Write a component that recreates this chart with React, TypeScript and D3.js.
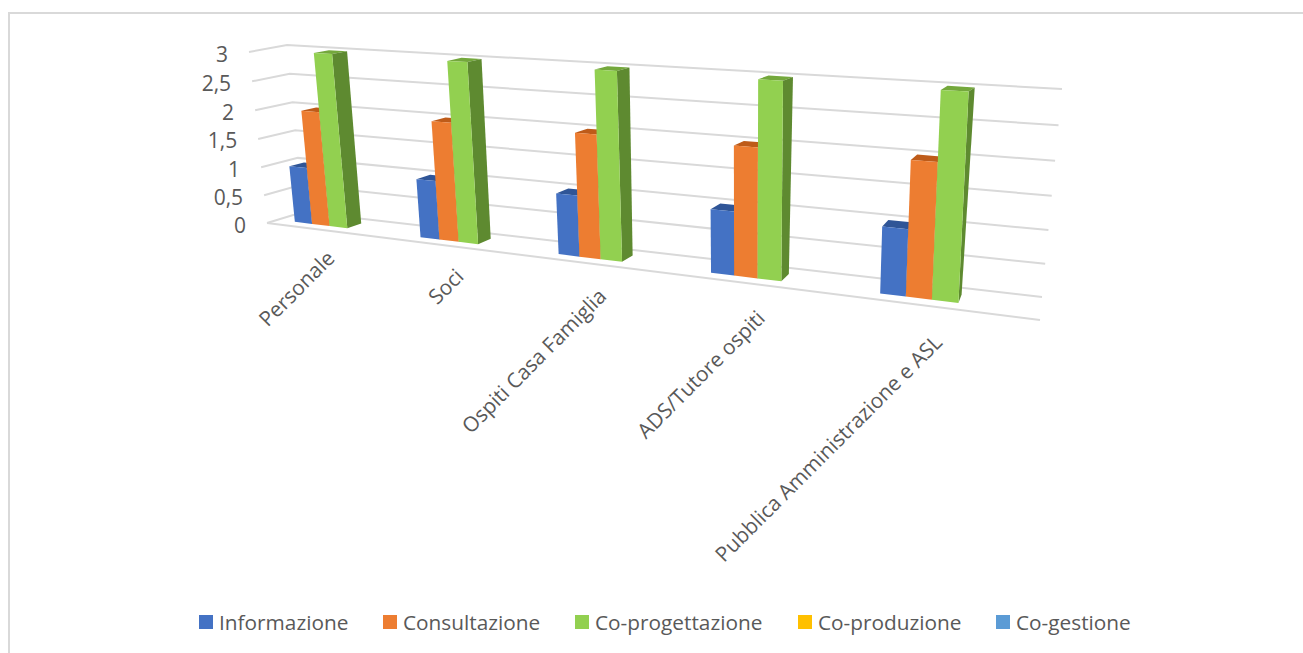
import React from "react";
import * as d3 from "d3";

const categories = ["Personale", "Soci", "Ospiti Casa Famiglia", "ADS/Tutore ospiti", "Pubblica Amministrazione e ASL"];
const seriesNames = ["Informazione", "Consultazione", "Co-progettazione", "Co-produzione", "Co-gestione"];
const seriesFront = ["#4472C4", "#ED7D31", "#92D050", "#FFC000", "#5B9BD5"];
const seriesTop = ["#2F5597", "#BE5B19", "#74A83C", "#BF9000", "#2E75B6"];
const seriesSide = ["#2F5597", "#BE5B19", "#5E8A30", "#BF9000", "#2E75B6"];
const informazione = [1, 1, 1, 1, 1];
const consultazione = [2, 2, 2, 2, 2];
const coProgettazione = [3, 3, 3, 3, 3];
const seriesValues = [informazione, consultazione, coProgettazione];
const yTicks = [0, 0.5, 1, 1.5, 2, 2.5, 3];
const yTickLabels = ["0", "0,5", "1", "1,5", "2", "2,5", "3"];
const legendSwatchX = [199, 383, 575, 798, 996];

type P = [number, number];

// unit square -> quad: corners at (u,v) = (0,0), (1,0), (1,1), (0,1)
function homography(p0: P, p1: P, p2: P, p3: P) {
  const dx1 = p1[0] - p2[0], dx2 = p3[0] - p2[0], sx = p0[0] - p1[0] + p2[0] - p3[0];
  const dy1 = p1[1] - p2[1], dy2 = p3[1] - p2[1], sy = p0[1] - p1[1] + p2[1] - p3[1];
  const den = dx1 * dy2 - dx2 * dy1;
  const g = (sx * dy2 - dx2 * sy) / den;
  const h = (dx1 * sy - sx * dy1) / den;
  const a = p1[0] - p0[0] + g * p1[0], b = p3[0] - p0[0] + h * p3[0];
  const d = p1[1] - p0[1] + g * p1[1], e = p3[1] - p0[1] + h * p3[1];
  return (u: number, v: number): P => {
    const w = g * u + h * v + 1;
    return [(a * u + b * v + p0[0]) / w, (d * u + e * v + p0[1]) / w];
  };
}
const backWall = homography([303, 212], [1042, 297], [1062, 89], [287, 45]);
const frontWall = homography([267, 223], [1040, 320], [1052, 100], [249, 52]);
const project = (x: number, y: number, z: number): P => {
  const b = backWall(x, y);
  const f = frontWall(x, y);
  return [b[0] + (f[0] - b[0]) * z, b[1] + (f[1] - b[1]) * z];
};

const yScale = d3.scaleLinear().domain([0, 3]).range([0, 1]);
const catScale = d3.scaleBand<number>().domain(d3.range(categories.length)).range([0, 1]);
const seriesScale = d3
  .scaleBand<number>()
  .domain(d3.range(seriesNames.length))
  .range([0, catScale.bandwidth()])
  .paddingInner(0)
  .paddingOuter(1);
const labelDx = d3.scaleLinear().domain([0, 4]).range([8, 1]);
const labelDy = d3.scaleLinear().domain([0, 4]).range([29, 36]);
const zFront = 0.7;
const zBack = 0.3;
const line = d3.line<P>().curve(d3.curveLinearClosed);
const open = d3.line<P>();
const FONT = "'Open Sans', sans-serif";
const TXT = "#595959";
const GRID = "#D9D9D9";

export default function App() {
  return (
    <svg width={1303} height={653} style={{ position: "absolute", left: 0, top: 0, background: "#fff" }}>
      <rect x={9} y={13} width={1400} height={700} fill="none" stroke={GRID} strokeWidth={2} />
      {yTicks.map((t) => {
        const y = yScale(t);
        return (
          <path
            key={t}
            d={open([project(0, y, 1), project(0, y, 0), project(1, y, 0)]) as string}
            fill="none"
            stroke={GRID}
            strokeWidth={2}
          />
        );
      })}
      <path d={open([project(0, 0, 1), project(1, 0, 1)]) as string} fill="none" stroke={GRID} strokeWidth={2} />
      {yTicks.map((t, i) => {
        const [px, py] = project(0, yScale(t), 1);
        return (
          <text key={t} x={px - 21} y={py + 9.5} textAnchor="end" fontFamily={FONT} fontSize={21} fill={TXT}>
            {yTickLabels[i]}
          </text>
        );
      })}
      {categories.map((c, i) => (
        <g key={c}>
          {seriesValues.map((vals, s) => {
            const x0 = (catScale(i) as number) + (seriesScale(s) as number);
            const x1 = x0 + seriesScale.bandwidth();
            const h = yScale(vals[i]);
            const front = [project(x0, 0, zFront), project(x1, 0, zFront), project(x1, h, zFront), project(x0, h, zFront)];
            const top = [project(x0, h, zFront), project(x1, h, zFront), project(x1, h, zBack), project(x0, h, zBack)];
            const side = [project(x1, 0, zFront), project(x1, 0, zBack), project(x1, h, zBack), project(x1, h, zFront)];
            return (
              <g key={s}>
                <path d={line(top) as string} fill={seriesTop[s]} />
                <path d={line(side) as string} fill={seriesSide[s]} />
                <path d={line(front) as string} fill={seriesFront[s]} />
              </g>
            );
          })}
        </g>
      ))}
      {categories.map((c, i) => {
        const [px, py] = project((catScale(i) as number) + catScale.bandwidth() / 2, 0, 1);
        return (
          <text
            key={c}
            transform={`translate(${px + labelDx(i)},${py + labelDy(i)}) rotate(-45)`}
            textAnchor="end"
            fontFamily={FONT}
            fontSize={20.8}
            fill={TXT}
          >
            {c}
          </text>
        );
      })}
      {seriesNames.map((n, i) => (
        <g key={n}>
          <rect x={legendSwatchX[i]} y={615} width={14} height={14} fill={seriesFront[i]} />
          <text x={legendSwatchX[i] + 20} y={629.5} fontFamily={FONT} fontSize={20.8} fill={TXT}>
            {n}
          </text>
        </g>
      ))}
    </svg>
  );
}
